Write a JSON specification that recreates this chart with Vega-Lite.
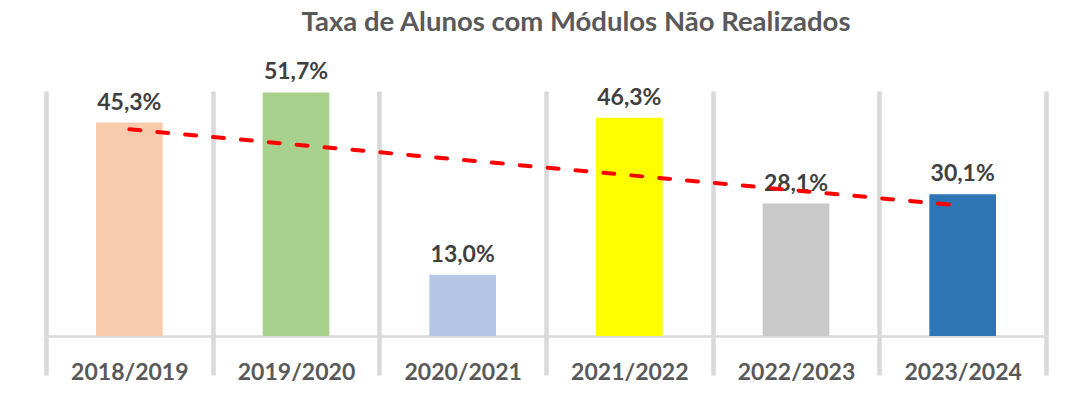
{
  "$schema": "https://vega.github.io/schema/vega-lite/v6.json",
  "width": 1000,
  "height": 245,
  "autosize": {"type": "none"},
  "padding": {"left": 46, "top": 91, "right": 22, "bottom": 66},
  "background": "white",
  "title": {
    "text": "Taxa de Alunos com Módulos Não Realizados",
    "font": "Lato",
    "fontSize": 27.5,
    "fontWeight": "bold",
    "color": "#595959",
    "anchor": "middle",
    "baseline": "alphabetic",
    "offset": 3,
    "dx": 30
  },
  "datasets": {
    "bars": [
      {"ano": "2018/2019", "valor": 0.453},
      {"ano": "2019/2020", "valor": 0.517},
      {"ano": "2020/2021", "valor": 0.130},
      {"ano": "2021/2022", "valor": 0.463},
      {"ano": "2022/2023", "valor": 0.281},
      {"ano": "2023/2024", "valor": 0.301}
    ],
    "tendencia": [
      {"ano": "2018/2019", "valor": 0.4386},
      {"ano": "2023/2024", "valor": 0.2764}
    ]
  },
  "layer": [
    {
      "data": {"name": "bars"},
      "mark": {"type": "bar", "width": {"band": 0.4}},
      "encoding": {
        "x": {
          "field": "ano",
          "type": "nominal",
          "scale": {"paddingInner": 0, "paddingOuter": 0},
          "axis": {
            "title": null,
            "labelAngle": 0,
            "grid": true,
            "gridColor": "#d9d9d9",
            "gridWidth": 4.5,
            "tickBand": "extent",
            "ticks": true,
            "tickSize": 39,
            "tickWidth": 4.5,
            "tickColor": "#d9d9d9",
            "domainColor": "#d9d9d9",
            "domainWidth": 2.5,
            "labelFont": "Lato",
            "labelFontSize": 23,
            "labelFontWeight": "bold",
            "labelColor": "#595959",
            "labelBaseline": "top",
            "labelPadding": -14
          }
        },
        "y": {
          "field": "valor",
          "type": "quantitative",
          "scale": {"domain": [0, 0.52], "nice": false},
          "axis": null
        },
        "color": {
          "field": "ano",
          "type": "nominal",
          "scale": {"range": ["#F8CBAD", "#A9D18E", "#B4C7E7", "#FFFF00", "#C9C9C9", "#2E75B6"]},
          "legend": null
        }
      }
    },
    {
      "data": {"name": "bars"},
      "mark": {"type": "text", "dy": -13, "baseline": "alphabetic", "font": "Lato", "fontSize": 23, "fontWeight": "bold", "color": "#404040"},
      "encoding": {
        "x": {"field": "ano", "type": "nominal"},
        "y": {"field": "valor", "type": "quantitative", "scale": {"domain": [0, 0.52], "nice": false}},
        "text": {"field": "valor", "type": "quantitative", "format": ".1%"}
      }
    },
    {
      "data": {"name": "tendencia"},
      "mark": {"type": "line", "color": "#FF0000", "strokeWidth": 4, "strokeDash": [11, 17], "strokeCap": "round"},
      "encoding": {
        "x": {"field": "ano", "type": "nominal"},
        "y": {"field": "valor", "type": "quantitative", "scale": {"domain": [0, 0.52], "nice": false}}
      }
    }
  ],
  "config": {
    "view": {"stroke": null},
    "locale": {
      "number": {"decimal": ",", "thousands": ".", "grouping": [3], "currency": ["", " €"]}
    }
  }
}
